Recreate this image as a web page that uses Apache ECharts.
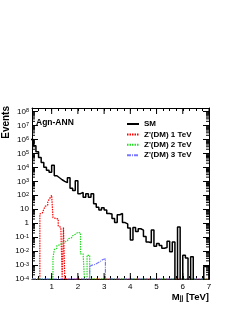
<!DOCTYPE html>
<html><head><meta charset="utf-8">
<script src="https://cdn.jsdelivr.net/npm/echarts@6/dist/echarts.min.js"></script>
<style>html,body{margin:0;padding:0;background:#fff}#c{width:241px;height:312px}</style>
</head><body><div id="c"></div>
<script>
// ---- data ----
const xMin = 0.25, xMax = 7;
const yMin = 1e-4, yMax = 1.8e8;
const xTickLabels = [1, 2, 3, 4, 5, 6, 7];
const yTickExponents = [-4, -3, -2, -1, 0, 1, 2, 3, 4, 5, 6, 7, 8];
const seriesNames = ['SM', "Z'(DM) 1 TeV", "Z'(DM) 2 TeV", "Z'(DM) 3 TeV"];

// SM background, bins of 0.1 TeV starting at 0.2 TeV (0 = empty bin)
const smStart = 0.2, smWidth = 0.1;
const smValues = [
  1.0e6, 3.5e5, 1.3e5, 5.0e4, 2.2e4, 1.0e4, 6.3e3, 4.5e3, 1.4e4, 2.5e3,
  1.8e3, 1.3e3, 1.0e3, 8.0e2, 1.8e3, 3.2e2, 2.2e2, 1.1e3, 1.3e2, 1.6e2,
  71, 1.3e2, 71, 1.3e2, 25, 14, 8.9, 13, 8.9, 5.0,
  4.5, 2.2, 1.1, 4.0, 5.0, 1.1, 0.89, 0.45, 0.063, 0.5,
  0.25, 0.4, 0.32, 0.11, 0.045, 0.04, 0.32, 0.022, 0.035, 0.025,
  0.016, 0.018, 0.05, 0.009, 0.045, 0, 0.54, 0, 0.005, 0.0032,
  0, 0.004, 0, 0, 0, 0, 8e-4, 8e-4
];
// Z'(DM) 1 TeV, bins of 0.05 TeV
const z1Start = 0.55, z1Width = 0.05;
const z1Values = [4.5, 5.6, 7.1, 10, 16, 20, 32, 50, 71, 100,
  2.5, 2.2, 2.5, 2.0, 0.63, 0.5, 0.5, 0, 0.5];
// Z'(DM) 2 TeV
const z2Start = 1.05, z2Width = 0.05;
const z2Values = [0.0032, 0.013, 0.016, 0.025, 0.028, 0.032, 0.035, 0.04, 0.045, 0.05,
  0.056, 0.063, 0.079, 0.089, 0.1, 0.126, 0.16, 0.18, 0.22, 0.25,
  0.2, 0.0063, 0.0063, 0.0063, 0, 0, 0.005, 0.005];
// Z'(DM) 3 TeV
const z3Start = 2.45, z3Width = 0.05;
const z3Values = [8e-4, 1e-3, 1e-3, 1.1e-3, 1.3e-3, 1.4e-3, 1.6e-3, 1.8e-3, 2.0e-3, 2.5e-3, 3.2e-3, 2.8e-3];

// ---- helpers: the y axis is a linear axis in log10(Events) ----
const L = v => Math.log10(v);
const yLo = L(yMin), yHi = L(yMax);
function histPoints(start, width, values, floor) {
  const pts = [];
  if (start > xMin) pts.push([xMin, L(floor)]);
  values.forEach((v, i) => pts.push([start + i * width, L(v > 0 ? v : floor)]));
  const end = start + values.length * width;
  pts.push([end, L(floor)]);
  if (end < xMax) pts.push([xMax, L(floor)]);
  return pts;
}
const FONT = '"Liberation Sans", Arial, Helvetica, sans-serif';

const yMinor = [];
for (let e = -4; e <= 8; e++) for (let k = 2; k <= 9; k++) { const v = k * Math.pow(10, e); if (v < yMax) yMinor.push([xMin, L(v), 0]); }
const xMajor = xTickLabels.map(x => [x, yLo, 1]);

function yFmt(v) {
  const e = Math.round(v);
  if (Math.abs(v - e) > 1e-6 || yTickExponents.indexOf(e) < 0) return '';
  if (e === 0) return '{b|1}';
  if (e === 1) return '{b|10}';
  return '{b|10}{s|' + e + '}';
}
const yRich = {
  b: { fontSize: 8, fontFamily: FONT, color: '#000', verticalAlign: 'bottom', lineHeight: 8, padding: [3, 0, 0, 0] },
  s: { fontSize: 5.5, fontFamily: FONT, color: '#000', verticalAlign: 'top', lineHeight: 6 }
};
const axisY = (pos, labels) => ({
  type: 'value', min: yLo, max: yHi, interval: 1, position: pos,
  axisLine: { show: true, onZero: false, lineStyle: { color: '#000', width: 1 } },
  axisTick: { inside: true, length: 6, lineStyle: { color: '#000' } },
  splitLine: { show: false },
  axisLabel: labels ? { margin: 3, formatter: yFmt, rich: yRich } : { show: false }
});
const axisX = (pos, labels) => ({
  type: 'value', min: xMin, max: xMax, interval: 0.25, position: pos,
  axisLine: { show: true, onZero: false, lineStyle: { color: '#000', width: 1 } },
  axisTick: { inside: true, length: 3, lineStyle: { color: '#000' } },
  splitLine: { show: false },
  axisLabel: labels ? { margin: 4, fontSize: 8, fontFamily: FONT, color: '#000',
    formatter: v => (xTickLabels.indexOf(Math.round(v * 1000) / 1000) >= 0 ? String(Math.round(v)) : '') } : { show: false }
});

const chart = echarts.init(document.getElementById('c'), null, { renderer: 'canvas' });
const lineBase = { type: 'line', step: 'end', symbol: 'none', showSymbol: false, clip: true, animation: false, xAxisIndex: 0, yAxisIndex: 0 };
chart.setOption({
  animation: false,
  backgroundColor: '#fff',
  grid: { left: 32, right: 32, top: 108, bottom: 33 },
  xAxis: [axisX('bottom', true), axisX('top', false)],
  yAxis: [axisY('left', true), axisY('right', false)],
  legend: {
    data: seriesNames, orient: 'vertical', left: 126, top: 119, padding: 0,
    itemWidth: 12, itemHeight: 10, itemGap: 0.4,
    itemStyle: { opacity: 0 },
    textStyle: { fontSize: 8, fontWeight: 'bold', fontFamily: FONT, color: '#000', lineHeight: 10 }
  },
  graphic: [
    { type: 'text', x: 36, y: 123, style: { text: 'Agn-ANN', font: 'bold 8.5px ' + FONT, fill: '#000', verticalAlign: 'middle' } },
    { type: 'text', x: 6, y: 106, rotation: Math.PI / 2, style: { text: 'Events', font: 'bold 10px ' + FONT, fill: '#000', align: 'right', verticalAlign: 'middle' } },
    { type: 'text', x: 209, y: 297, style: { text: 'M{sub|jj} [TeV]', font: 'bold 9.5px ' + FONT, fill: '#000', align: 'right', verticalAlign: 'middle',
        rich: { sub: { font: 'bold 6.5px ' + FONT, fill: '#000', verticalAlign: 'bottom', lineHeight: 6, padding: [6, 0, 0, 0] } } } }
  ],
  series: [
    Object.assign({}, lineBase, { name: seriesNames[1], data: histPoints(z1Start, z1Width, z1Values, yMin), lineStyle: { color: '#ff0000', width: 1.2, type: [1.5, 1] }, itemStyle: { color: '#ff0000' }, z: 3 }),
    Object.assign({}, lineBase, { name: seriesNames[2], data: histPoints(z2Start, z2Width, z2Values, yMin), lineStyle: { color: '#22dd22', width: 1.2, type: [1.5, 1] }, itemStyle: { color: '#22dd22' }, z: 3 }),
    Object.assign({}, lineBase, { name: seriesNames[3], data: histPoints(z3Start, z3Width, z3Values, yMin), lineStyle: { color: '#7777ff', width: 1.2, type: [4, 1, 1, 1] }, itemStyle: { color: '#7777ff' }, z: 3 }),
    Object.assign({}, lineBase, { name: seriesNames[0], data: histPoints(smStart, smWidth, smValues, 1e-7), lineStyle: { color: '#000', width: 1.5 }, itemStyle: { color: '#000' }, z: 4 }),
    { type: 'custom', name: 'ticks', silent: true, animation: false, xAxisIndex: 0, yAxisIndex: 0, z: 5,
      data: yMinor.concat(xMajor),
      renderItem: function (params, api) {
        const kind = api.value(2);
        const st = { stroke: '#000', lineWidth: 1 };
        if (kind === 0) {
          const p = api.coord([xMin, api.value(1)]), r = api.coord([xMax, api.value(1)]);
          return { type: 'group', children: [
            { type: 'line', shape: { x1: p[0], y1: p[1], x2: p[0] + 3, y2: p[1] }, style: st },
            { type: 'line', shape: { x1: r[0] - 3, y1: r[1], x2: r[0], y2: r[1] }, style: st } ] };
        }
        const b = api.coord([api.value(0), yLo]), t = api.coord([api.value(0), yHi]);
        return { type: 'group', children: [
          { type: 'line', shape: { x1: b[0], y1: b[1], x2: b[0], y2: b[1] - 6 }, style: st },
          { type: 'line', shape: { x1: t[0], y1: t[1], x2: t[0], y2: t[1] + 6 }, style: st } ] };
      } }
  ]
});
</script></body></html>
